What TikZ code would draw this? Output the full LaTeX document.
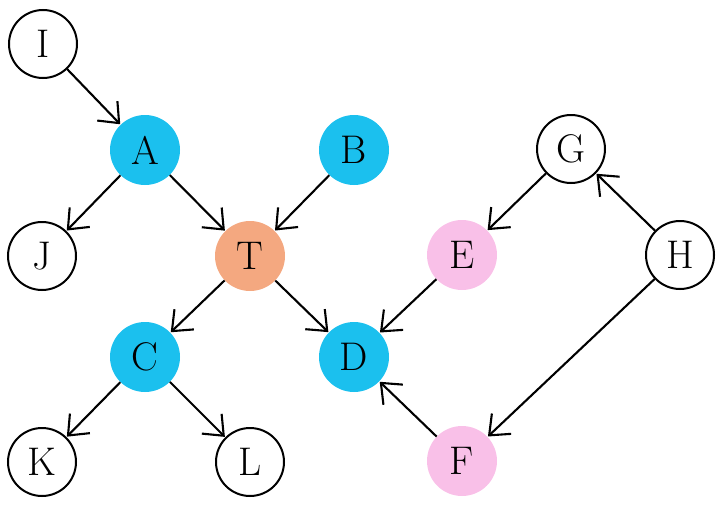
\documentclass[tikz,border=0pt]{standalone}
\usetikzlibrary{arrows.meta}
\definecolor{nblue}{HTML}{1BC0EE}
\definecolor{norange}{HTML}{F4A880}
\definecolor{npink}{HTML}{F9C0E8}
\begin{document}
\begin{tikzpicture}[x=1pt,y=-1pt,
  vtx/.style={circle,minimum size=70pt,inner sep=0pt,font=\fontsize{40}{46}\selectfont},
  plain/.style={vtx,draw=black,line width=2pt,fill=white,minimum size=68pt},
  blue/.style={vtx,fill=nblue},
  orng/.style={vtx,fill=norange},
  pink/.style={vtx,fill=npink},
  edge/.style={line width=2.1pt,-{Straight Barb[length=17pt,width=28pt,line width=2.1pt]},shorten >=0.5pt}]
\useasboundingbox (0,0) rectangle (722,506);
\node[plain] (I) at (43,44) {I};
\node[blue]  (A) at (145,150) {A};
\node[blue]  (B) at (354,150) {B};
\node[plain] (G) at (571,149) {G};
\node[plain] (J) at (42,256) {J};
\node[orng]  (T) at (250,256) {T};
\node[pink]  (E) at (462,255) {E};
\node[plain] (H) at (680,255) {H};
\node[blue]  (C) at (145,357) {C};
\node[blue]  (D) at (354,357) {D};
\node[plain] (K) at (42,462) {K};
\node[plain] (L) at (250,462) {L};
\node[pink]  (F) at (462,461) {F};
\draw[edge] (I) -- (A);
\draw[edge] (A) -- (J);
\draw[edge] (A) -- (T);
\draw[edge] (B) -- (T);
\draw[edge] (T) -- (C);
\draw[edge] (T) -- (D);
\draw[edge] (C) -- (K);
\draw[edge] (C) -- (L);
\draw[edge] (G) -- (E);
\draw[edge] (E) -- (D);
\draw[edge] (F) -- (D);
\draw[edge] (H) -- (G);
\draw[edge] (H) -- (F);
\end{tikzpicture}
\end{document}
